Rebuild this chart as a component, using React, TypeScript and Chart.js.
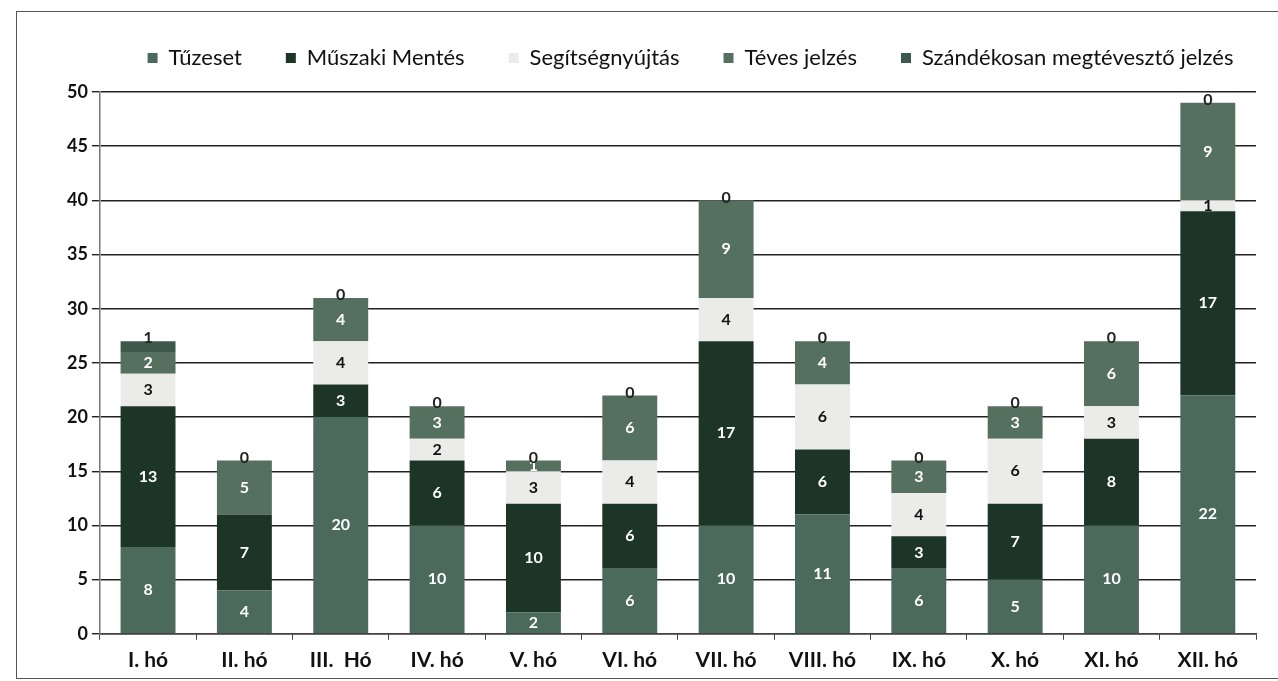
import React, { useEffect, useRef } from "react";
import { Chart, registerables } from "chart.js";

Chart.register(...registerables);

const categories = ["I. hó", "II. hó", "III.  Hó", "IV. hó", "V. hó", "VI. hó", "VII. hó", "VIII. hó", "IX. hó", "X. hó", "XI. hó", "XII. hó"];
const tuzeset = [8, 4, 20, 10, 2, 6, 10, 11, 6, 5, 10, 22];
const muszaki = [13, 7, 3, 6, 10, 6, 17, 6, 3, 7, 8, 17];
const segitseg = [3, 0, 4, 2, 3, 4, 4, 6, 4, 6, 3, 1];
const teves = [2, 5, 4, 3, 1, 6, 9, 4, 3, 3, 6, 9];
const szandekos = [1, 0, 0, 0, 0, 0, 0, 0, 0, 0, 0, 0];
const yTicks = [0, 5, 10, 15, 20, 25, 30, 35, 40, 45, 50];

const FONT = "Lato, 'Open Sans', sans-serif";

const labelPlugin = {
  id: "segLabels",
  afterDatasetsDraw(chart: any) {
    const ctx = chart.ctx;
    ctx.save();
    ctx.textAlign = "center";
    ctx.textBaseline = "middle";
    ctx.font = `bold 16px ${FONT}`;
    chart.data.datasets.forEach((ds: any, di: number) => {
      const meta = chart.getDatasetMeta(di);
      meta.data.forEach((bar: any, i: number) => {
        const v = ds.data[i];
        if (di === 4) {
          ctx.fillStyle = "#222";
          ctx.fillText(String(v), bar.x, bar.y - 3);
          return;
        }
        if (v === 0) return;
        const yc = (bar.y + bar.base) / 2;
        ctx.fillStyle = ds.labelColor;
        ctx.fillText(String(v), bar.x, yc);
      });
    });
    ctx.restore();
  },
};

const legendSpacer = {
  id: "legendSpacer",
  beforeLayout(chart: any) {
    const lg = chart.legend;
    if (lg && !lg._spaced) {
      const orig = lg.fit.bind(lg);
      lg.fit = function () {
        orig();
        this.height += 13;
      };
      lg._spaced = true;
    }
  },
  afterLayout(chart: any) {
    const lg = chart.legend;
    if (lg) {
      lg.left += 31;
      lg.right += 31;
    }
  },
};

const framePlugin = {
  id: "frame",
  beforeDraw(chart: any) {
    const ctx = chart.ctx;
    ctx.save();
    ctx.fillStyle = "#ffffff";
    ctx.fillRect(0, 0, chart.width, chart.height);
    ctx.strokeStyle = "#555";
    ctx.lineWidth = 1;
    ctx.strokeRect(16.5, 11.5, chart.width + 20, chart.height - 14);
    ctx.restore();
  },
};

export default function App() {
  const ref = useRef<HTMLCanvasElement>(null);
  useEffect(() => {
    document.body.style.margin = "0";
    const mk = (label: string, data: number[], color: string, labelColor: string) => ({
      label,
      data,
      backgroundColor: color,
      borderWidth: 0,
      labelColor,
      categoryPercentage: 0.57,
      barPercentage: 1,
    });
    const chart = new Chart(ref.current as HTMLCanvasElement, {
      type: "bar",
      data: {
        labels: categories,
        datasets: [
          mk("Tűzeset", tuzeset, "#4b6a5b", "#ffffff"),
          mk("Műszaki Mentés", muszaki, "#1c3527", "#ffffff"),
          mk("Segítségnyújtás", segitseg, "#ebebea", "#111111"),
          mk("Téves jelzés", teves, "#55705f", "#ffffff"),
          mk("Szándékosan megtévesztő jelzés", szandekos, "#3d594b", "#111111"),
        ] as any,
      },
      options: {
        animation: false,
        responsive: false,
        maintainAspectRatio: false,
        layout: { padding: { top: 3, left: 63, right: 22, bottom: 0 } },
        plugins: {
          legend: {
            position: "top",
            labels: {
              boxWidth: 10,
              boxHeight: 10,
              padding: 44,
              color: "#111",
              font: { family: FONT, size: 22 },
            },
          },
          tooltip: { enabled: false },
        },
        scales: {
          x: {
            stacked: true,
            grid: { display: true, drawOnChartArea: false, drawTicks: true, tickLength: 6, color: "#444", offset: true },
            border: { color: "#444", width: 1.5 },
            ticks: { color: "#111", font: { family: FONT, size: 21, weight: "bold" }, padding: 8 },
          },
          y: {
            stacked: true,
            min: 0,
            max: 50,
            afterBuildTicks: (axis: any) => {
              axis.ticks = yTicks.map((v) => ({ value: v }));
            },
            grid: { color: "#222", lineWidth: 1.4, tickLength: 8 },
            border: { color: "#777", width: 1.5 },
            ticks: { color: "#111", font: { family: FONT, size: 18, weight: "bold" }, padding: 4 },
          },
        },
      },
      plugins: [framePlugin, legendSpacer, labelPlugin],
    } as any);
    return () => chart.destroy();
  }, []);
  return (
    <div style={{ width: 1278, height: 681 }}>
      <canvas ref={ref} width={1278} height={681} style={{ display: "block" }} />
    </div>
  );
}
